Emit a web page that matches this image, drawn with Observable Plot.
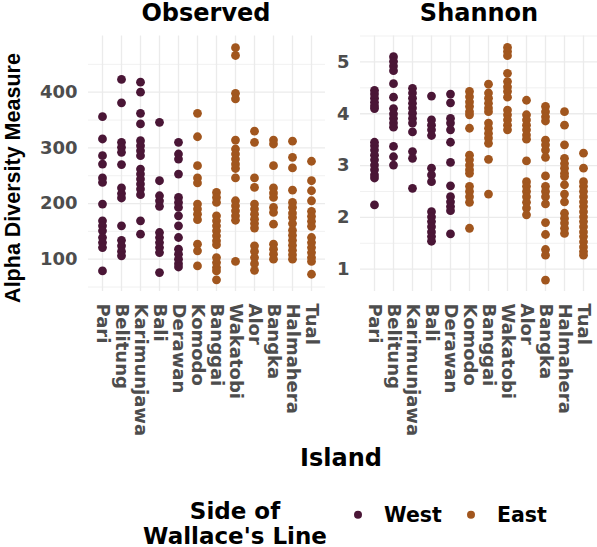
<!DOCTYPE html>
<html>
<head>
<meta charset="utf-8">
<script src="https://cdn.jsdelivr.net/npm/d3@7"></script>
<script src="https://cdn.jsdelivr.net/npm/@observablehq/plot@0.6"></script>
<style>
  html, body { margin: 0; padding: 0; background: #fff; }
  #wrap { position: relative; width: 597px; height: 547px; font-family: "DejaVu Sans", sans-serif; font-weight: bold; color: #000; overflow: hidden; }
  .abs { position: absolute; white-space: nowrap; line-height: 1; }
  .strip { font-size: 24px; transform: translate(-50%, -50%); }
  .ytitle { font-family: "Liberation Sans", Arial, sans-serif; font-size: 21.5px; line-height: 0.85; transform: translate(-50%, -50%) rotate(-90deg); }
  .xtitle { font-size: 24px; transform: translate(-50%, -50%); }
  .legtitle { font-size: 23px; line-height: 0.9; transform: translate(-50%, -50%); }
  .legitem { font-size: 20.5px; transform: translate(0, -50%); display: flex; align-items: center; }
  .dotkey { display: inline-block; width: 8px; height: 8px; border-radius: 50%; }
  svg { position: absolute; top: 0; }
</style>
</head>
<body>
<div id="wrap"></div>
<script>
// ---- data ----
const islands = ["Pari", "Belitung", "Karimunjawa", "Bali", "Derawan", "Komodo", "Banggai", "Wakatobi", "Alor", "Bangka", "Halmahera", "Tual"];
const sides = ["West", "West", "West", "West", "West", "East", "East", "East", "East", "East", "East", "East"];
const sideLevels = ["West", "East"];
const sideColors = ["#4a1636", "#a1561e"];
const metrics = ["Observed", "Shannon"];

const observed = [
  [356, 316, 286, 271, 246, 238, 199, 169, 160, 151, 139, 130, 121, 79],
  [423, 381, 310, 301, 292, 270, 228, 218, 210, 160, 134, 124, 114, 106],
  [418, 400, 362, 343, 313, 304, 295, 286, 262, 253, 244, 235, 226, 216, 169, 145],
  [346, 241, 214, 205, 195, 148, 139, 130, 121, 112, 76],
  [310, 289, 280, 253, 211, 202, 193, 178, 160, 139, 118, 109, 100, 92, 86],
  [362, 320, 268, 246, 237, 199, 190, 181, 171, 127, 115, 88],
  [220, 211, 202, 178, 169, 160, 151, 142, 133, 126, 103, 94, 85, 79, 63],
  [480, 466, 398, 388, 314, 298, 289, 280, 271, 263, 246, 205, 196, 187, 178, 170, 96],
  [330, 310, 246, 229, 199, 190, 181, 172, 164, 156, 124, 114, 103, 92, 80],
  [314, 307, 268, 228, 219, 211, 193, 184, 163, 127, 118, 109, 100],
  [312, 283, 264, 224, 202, 193, 183, 175, 164, 152, 143, 134, 125, 116, 108, 100],
  [276, 241, 223, 205, 186, 177, 168, 159, 139, 130, 121, 112, 103, 96, 73]
];

const shannon = [
  [4.45, 4.38, 4.30, 4.22, 4.15, 4.10, 3.45, 3.38, 3.30, 3.20, 3.11, 3.01, 2.92, 2.82, 2.76, 2.24],
  [5.10, 5.01, 4.92, 4.83, 4.58, 4.32, 4.10, 4.00, 3.91, 3.82, 3.74, 3.37, 3.17, 3.01],
  [4.49, 4.40, 4.30, 4.20, 4.11, 4.01, 3.91, 3.82, 3.65, 3.27, 3.14, 2.56],
  [4.34, 3.88, 3.78, 3.69, 3.58, 2.95, 2.82, 2.69, 2.11, 2.01, 1.92, 1.82, 1.72, 1.63, 1.54],
  [4.38, 4.21, 3.91, 3.82, 3.69, 3.45, 3.06, 2.61, 2.40, 2.30, 2.21, 2.13, 1.68],
  [4.43, 4.33, 4.23, 4.14, 4.04, 3.98, 3.72, 3.20, 3.11, 3.01, 2.92, 2.85, 2.60, 2.50, 2.40, 2.29, 1.79],
  [4.57, 4.40, 4.30, 4.20, 4.11, 4.04, 3.82, 3.72, 3.62, 3.53, 3.43, 3.12, 2.45],
  [5.28, 5.20, 5.12, 4.78, 4.62, 4.52, 4.43, 4.32, 4.07, 3.98, 3.88, 3.78, 3.69],
  [4.26, 3.98, 3.88, 3.78, 3.69, 3.59, 3.51, 3.09, 2.69, 2.60, 2.50, 2.40, 2.29, 2.18, 2.05],
  [4.14, 4.04, 3.94, 3.86, 3.49, 3.40, 3.30, 3.16, 2.80, 2.60, 2.50, 2.40, 2.26, 1.90, 1.67, 1.38, 1.27, 0.79],
  [4.04, 3.78, 3.40, 3.14, 3.04, 2.95, 2.85, 2.79, 2.63, 2.45, 2.30, 2.08, 1.98, 1.89, 1.79, 1.69],
  [3.24, 2.95, 2.69, 2.60, 2.50, 2.40, 2.30, 2.21, 2.11, 2.01, 1.92, 1.82, 1.72, 1.63, 1.53, 1.43, 1.34, 1.27]
];

const obsTicks = [100, 200, 300, 400];
const obsMinor = [50, 150, 250, 350, 450];
const shaTicks = [1, 2, 3, 4, 5];
const shaMinor = [1.5, 2.5, 3.5, 4.5, 5.5];

// ---- build ----
function rowsFor(values) {
  const rows = [];
  values.forEach((arr, i) => arr.forEach(v => rows.push({island: islands[i], side: sides[i], value: v})));
  return rows;
}

const grid = "#ebebeb";
const tickFill = "#4d4d4d";

function panel({values, domain, ticks, minor, width, marginLeft, marginRight, left}) {
  const svg = Plot.plot({
    width, height: 445,
    marginLeft, marginRight, marginTop: 35.5, marginBottom: 154,
    style: {fontFamily: "DejaVu Sans", fontWeight: "bold", background: "transparent", overflow: "visible"},
    x: {type: "point", domain: islands, padding: 0.6},
    y: {domain},
    color: {domain: sideLevels, range: sideColors},
    marks: [
      Plot.gridY(minor, {stroke: grid, strokeOpacity: 1, strokeWidth: 0.7}),
      Plot.gridY(ticks, {stroke: grid, strokeOpacity: 1, strokeWidth: 1.3}),
      Plot.gridX(islands, {stroke: grid, strokeOpacity: 1, strokeWidth: 1.3}),
      Plot.axisX({tickRotate: 90, tickSize: 0, tickPadding: 12, fontSize: 18, fill: tickFill, label: null, textAnchor: "start", lineAnchor: "middle"}),
      Plot.axisY(ticks, {tickSize: 0, tickPadding: 11, fontSize: 18, fill: tickFill, label: null, tickFormat: d => String(d)}),
      Plot.dot(rowsFor(values), {x: "island", y: "value", fill: "side", r: 4.4, stroke: null})
    ]
  });
  svg.style.left = left + "px";
  return svg;
}

const wrap = document.getElementById("wrap");
wrap.appendChild(panel({values: observed, domain: [42, 501], ticks: obsTicks, minor: obsMinor, width: 330, marginLeft: 88, marginRight: 5, left: 0}));
wrap.appendChild(panel({values: shannon, domain: [0.57, 5.5], ticks: shaTicks, minor: shaMinor, width: 267, marginLeft: 30, marginRight: 0, left: 330}));

function addDiv(cls, text, x, y) {
  const d = document.createElement("div");
  d.className = "abs " + cls;
  d.style.left = x + "px";
  d.style.top = y + "px";
  d.innerHTML = text;
  wrap.appendChild(d);
  return d;
}

addDiv("strip", metrics[0], 206, 13);
addDiv("strip", metrics[1], 479, 13);
addDiv("ytitle", "Alpha Diversity Measure", 12.5, 178);
addDiv("xtitle", "Island", 341, 458);
addDiv("legtitle", "Side of", 235, 511);
addDiv("legtitle", "Wallace's Line", 235, 535.5);

sideLevels.forEach((s, i) => {
  const x = [354, 467][i];
  addDiv("legitem", `<span class="dotkey" style="background:${sideColors[i]}"></span><span style="margin-left:22px">${s}</span>`, x, 515);
});
</script>
</body>
</html>
